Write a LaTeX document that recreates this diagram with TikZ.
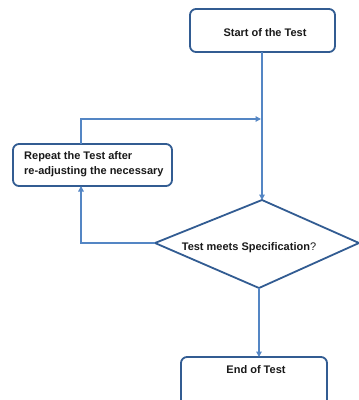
\documentclass[tikz,border=0pt]{standalone}
\usepackage{fontspec}
\setmainfont{Liberation Sans}
\usetikzlibrary{arrows.meta,shapes.geometric}
\definecolor{linecol}{RGB}{84,134,196}
\definecolor{boxcol}{RGB}{50,92,146}
\tikzset{
  box/.style={draw=boxcol,line width=1.8pt,rounded corners=6pt,fill=white},
  conn/.style={draw=linecol,line width=1.3pt,-{Triangle[length=5.5pt,width=5.5pt]}},
  lbl/.style={font=\bfseries\fontsize{11}{15}\selectfont,text=black!90,inner sep=0pt}
}
\begin{document}
\begin{tikzpicture}[x=1pt,y=-1pt]
\useasboundingbox (0,0) rectangle (359,400);
\clip (0,0) rectangle (359,400);
% start box
\draw[box] (190,9) rectangle (335,52);
\node[lbl] (start) at (265,33) {Start of the Test};
\coordinate (startb) at (262,52);
% diamond
\coordinate (dt) at (262,200);
\coordinate (dl) at (155,243);
\coordinate (dr) at (359,243);
\coordinate (db) at (259,288);
\draw[draw=boxcol,line width=1.8pt,fill=white,line join=miter] (dt) -- (dr) -- (db) -- (dl) -- cycle;
\node[lbl] (q) at (249,248) {Test meets Specification\textmd{?}};
% repeat box
\draw[box] (13,144) rectangle (172,186);
\node[lbl,align=left,anchor=west] (rep) at (24,164) {Repeat the Test after\\re-adjusting the necessary};
\coordinate (rept) at (81,144);
\coordinate (repb) at (81,186);
\coordinate (merge) at (261,119);
% end box
\draw[box] (181,357) rectangle (327,412);
\node[lbl] (end) at (256,370) {End of Test};
\coordinate (endt) at (259,357);
% connectors
\draw[conn] (startb) -- (dt);
\draw[conn] (rept) |- (merge);
\draw[conn] (dl) -| (repb);
\draw[conn] (db) -- (endt);
\end{tikzpicture}
\end{document}
